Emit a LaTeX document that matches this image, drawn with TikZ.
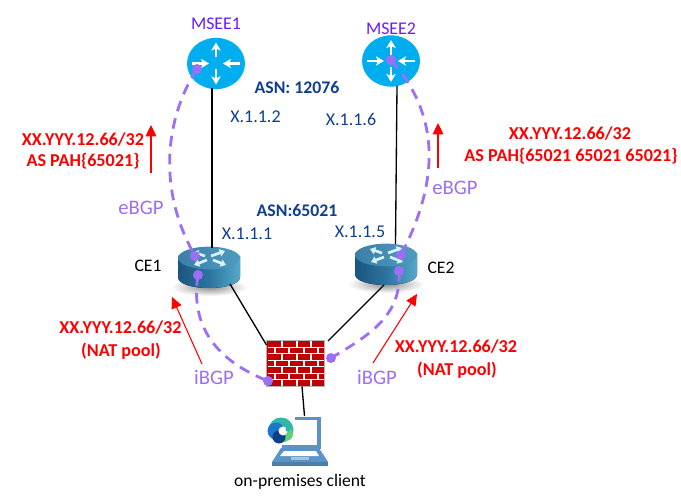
\documentclass[tikz,border=0pt]{standalone}
\usepackage{fontspec}
\setmainfont{Carlito}
\usetikzlibrary{arrows.meta,shapes.geometric}
\definecolor{skyrouter}{HTML}{00AEEF}
\definecolor{bgp}{HTML}{9D6FF7}
\definecolor{navytxt}{HTML}{0F3F8F}
\definecolor{msee}{HTML}{6A1BFF}
\definecolor{brick}{HTML}{C00000}
\definecolor{lap}{HTML}{5B93C7}
\definecolor{cedark}{HTML}{1B557F}
\definecolor{cemid}{HTML}{2C749E}
\definecolor{celight}{HTML}{55A9CC}
\definecolor{cetopl}{HTML}{3B7FA8}
\definecolor{cetopr}{HTML}{4E9BC0}
\definecolor{edgeteal}{HTML}{2FB8A8}
\definecolor{edgegreen}{HTML}{62D07A}
\definecolor{edgeblue}{HTML}{1B78C8}
\definecolor{edgenavy}{HTML}{0C3F86}
\tikzset{
  routeru/.style={ellipse,fill=skyrouter,minimum width=43.5pt,minimum height=38.5pt,inner sep=0pt},
  cebody/.style={left color=cedark,right color=celight,middle color=cemid},
  cetop/.style={ellipse,left color=cetopl,right color=cetopr,minimum width=46.5pt,minimum height=17pt,inner sep=0pt},
  wire/.style={line width=1pt,black},
  bgpline/.style={draw=bgp,line width=2.1pt,dash pattern=on 8pt off 5.5pt},
  bgpdot/.style={circle,fill=bgp,minimum size=7.5pt,inner sep=0pt},
  redarrow/.style={draw=red,line width=0.8pt,-{Triangle[length=8.5pt,width=8pt]}},
  redtxt/.style={text=red,font=\fontsize{13.6}{14}\selectfont\bfseries,inner sep=0pt},
  asntxt/.style={text=navytxt,font=\fontsize{13.3}{14}\selectfont\bfseries,inner sep=0pt},
  iptxt/.style={text=navytxt,font=\fontsize{13.5}{14}\selectfont,inner sep=0pt},
  bgptxt/.style={text=bgp,font=\fontsize{15.5}{16}\selectfont,inner sep=0pt},
  mseetxt/.style={text=msee,font=\fontsize{13.4}{14}\selectfont,inner sep=0pt},
  blacktxt/.style={text=black,font=\fontsize{13.2}{14}\selectfont,inner sep=0pt},
  whitearrow/.style={draw=white,line width=1.6pt,-{Stealth[length=6pt,width=7pt,inset=1.5pt]}},
  cearrow/.style={draw=white!85!cyan,line width=2pt,-{Triangle[length=4pt,width=5.5pt]}}
}
\begin{document}
\begin{tikzpicture}[x=0.75pt,y=-0.75pt]
\useasboundingbox (0,0) rectangle (681,498);
\fill[white] (0,0) rectangle (681,498);

% shadows below CE routers
\shade[inner color=black!45,outer color=white] (209,287) ellipse [x radius=38,y radius=9];
\shade[inner color=black!45,outer color=white] (386,284) ellipse [x radius=38,y radius=9];

% CE bodies
\fill[cebody] (178,256) -- (178,277) .. controls (178,284) and (192,288) .. (209,288) .. controls (226,288) and (240,284) .. (240,277) -- (240,256) -- cycle;
\fill[cebody] (355,253) -- (355,274) .. controls (355,281) and (369,285) .. (386,285) .. controls (403,285) and (417,281) .. (417,274) -- (417,253) -- cycle;

% routers
\node[routeru] (msee1) at (216,63.5) {};
\node[routeru] (msee2) at (391,61) {};
\node[cetop] (ce1) at (209,258) {};
\node[cetop] (ce2) at (386,255) {};

% white arrows in the MSEE routers
\foreach \cx/\cy in {216/63.5,391/61}{
  \draw[whitearrow] (\cx,\cy-6) -- (\cx,\cy-21);
  \draw[whitearrow] (\cx,\cy+6) -- (\cx,\cy+21);
  \draw[whitearrow] (\cx-24,\cy) -- (\cx-7,\cy);
  \draw[whitearrow] (\cx+24,\cy) -- (\cx+7,\cy);
}
% arrows on the CE tops
\foreach \cx/\cy in {209/258,386/255}{
  \draw[cearrow] (\cx-4,\cy-2) -- (\cx-16,\cy-6);
  \draw[cearrow] (\cx+2,\cy-2) -- (\cx+16,\cy-7);
  \draw[cearrow] (\cx-2,\cy+2) -- (\cx-15,\cy+7);
  \draw[cearrow] (\cx+4,\cy+2) -- (\cx+17,\cy+7);
}

% firewall
\node[draw=black!30,fill=brick,line width=0.75pt,minimum width=43pt,minimum height=34pt,inner sep=0pt] (fw) at (295.5,363.5) {};
\foreach \i in {1,...,6}{ \draw[white,line width=0.8pt] (268,341+6.45*\i) -- (323.5,341+6.45*\i); }
\foreach \i in {0,2,4,6}{ \foreach \vx in {282,297,311}{
  \draw[white,line width=0.8pt] (\vx,341.5+6.45*\i) -- (\vx,341+6.45*\i+6.45); } }
\foreach \i in {1,3,5}{ \foreach \vx in {275,289,304,318}{
  \draw[white,line width=0.8pt] (\vx,341+6.45*\i) -- (\vx,341+6.45*\i+6.45); } }

% laptop
\draw[lap,line width=2.4pt] (295,418.5) -- (319,418.5) -- (319,447) -- (282,447);
\fill[lap] (281,448) -- (319,448) -- (328,462) -- (272,462) -- cycle;
\fill[white] (284,451) -- (316,451) -- (319,456) -- (280,456) -- cycle;
\fill[lap!55!white] (291,457) rectangle (309,459.5);
\fill[lap!85!black] (272,462) rectangle (328,465.5);
\node[inner sep=0pt,minimum width=43pt,minimum height=38pt] (laptop) at (300,441) {};
% browser logo
\fill[white] (280,431) circle [radius=14];
\fill[edgeteal] (281,430) circle [radius=12.5];
\fill[edgegreen] (286,434) circle [radius=7];
\fill[edgeblue] (276,431) circle [radius=8.5];
\fill[edgenavy] (279,437) circle [radius=6.5];
\fill[white] (283,431) circle [radius=4.5];
\fill[edgeteal] (288,429) circle [radius=2.5];

% connectors
\coordinate (m1low) at (212,88);
\coordinate (ce1up) at (212,248);
\coordinate (m2low) at (397,86);
\coordinate (ce2up) at (395.5,244);
\draw[wire] (m1low) -- (ce1up);
\draw[wire] (m2low) -- (ce2up);
\coordinate (ce1low) at (230,284);
\coordinate (fwnw) at (266.5,345);
\coordinate (ce2low) at (384,285);
\coordinate (fwne) at (328,341);
\coordinate (fwlow) at (302,386.5);
\coordinate (lapup) at (304.5,416);
\draw[wire] (ce1low) -- (fwnw);
\draw[wire] (ce2low) -- (fwne);
\draw[wire] (fwlow) -- (lapup);

% BGP dots
\node[bgpdot] (d1) at (197,69) {};
\node[bgpdot] (d2) at (195,256) {};
\node[bgpdot] (d3) at (198,275) {};
\node[bgpdot] (d4) at (268,381) {};
\node[bgpdot] (d5) at (391,60) {};
\node[bgpdot] (d6) at (401,255) {};
\node[bgpdot] (d7) at (399,271) {};
\node[bgpdot] (d8) at (331,358) {};

% BGP sessions
\draw[bgpline] (d1.center) .. controls (170,110) and (153,182) .. (d2.center);
\draw[bgpline] (d5.center) .. controls (440,115) and (440,180) .. (d6.center);
\draw[bgpline] (d3.center) .. controls (190,325) and (215,360) .. (d4.center);
\draw[bgpline] (d7.center) .. controls (402,315) and (370,335) .. (d8.center);

% red arrows
\coordinate (ra1) at (151,173); \coordinate (ra1e) at (151,125);
\coordinate (ra2) at (438,168); \coordinate (ra2e) at (438,123);
\coordinate (ra3) at (202,364); \coordinate (ra3e) at (172,297);
\coordinate (ra4) at (373,363); \coordinate (ra4e) at (417,294);
\draw[redarrow] (ra1) -- (ra1e);
\draw[redarrow] (ra2) -- (ra2e);
\draw[redarrow] (ra3) -- (ra3e);
\draw[redarrow] (ra4) -- (ra4e);

% labels
\node[mseetxt] (t1) at (216,24) {MSEE1};
\node[mseetxt] (t2) at (391,29) {MSEE2};
\node[asntxt] (t3) at (297,88) {ASN: 12076};
\node[asntxt] (t4) at (297,211) {ASN:65021};
\node[iptxt] (t5) at (255.5,117) {X.1.1.2};
\node[iptxt] (t6) at (351,119) {X.1.1.6};
\node[iptxt] (t7) at (247,234) {X.1.1.1};
\node[iptxt] (t8) at (360,232) {X.1.1.5};
\node[blacktxt] (t9) at (148,266) {CE1};
\node[blacktxt] (t10) at (441,268) {CE2};
\node[blacktxt] (t11) at (300,482) {on-premises client};
\node[redtxt] (r1) at (83,140) {XX.YYY.12.66/32};
\node[redtxt] (r2) at (83,161) {AS PAH\{65021\}};
\node[redtxt] (r3) at (570,134) {XX.YYY.12.66/32};
\node[redtxt] (r4) at (571,156) {AS PAH\{65021 65021 65021\}};
\node[redtxt] (r5) at (120.5,328) {XX.YYY.12.66/32};
\node[redtxt] (r6) at (121,351) {(NAT pool)};
\node[redtxt] (r7) at (456,347) {XX.YYY.12.66/32};
\node[redtxt] (r8) at (457,370) {(NAT pool)};
\node[bgptxt] (b1) at (141,208) {eBGP};
\node[bgptxt] (b2) at (455,188) {eBGP};
\node[bgptxt] (b3) at (214,377) {iBGP};
\node[bgptxt] (b4) at (377,377) {iBGP};
\end{tikzpicture}
\end{document}
